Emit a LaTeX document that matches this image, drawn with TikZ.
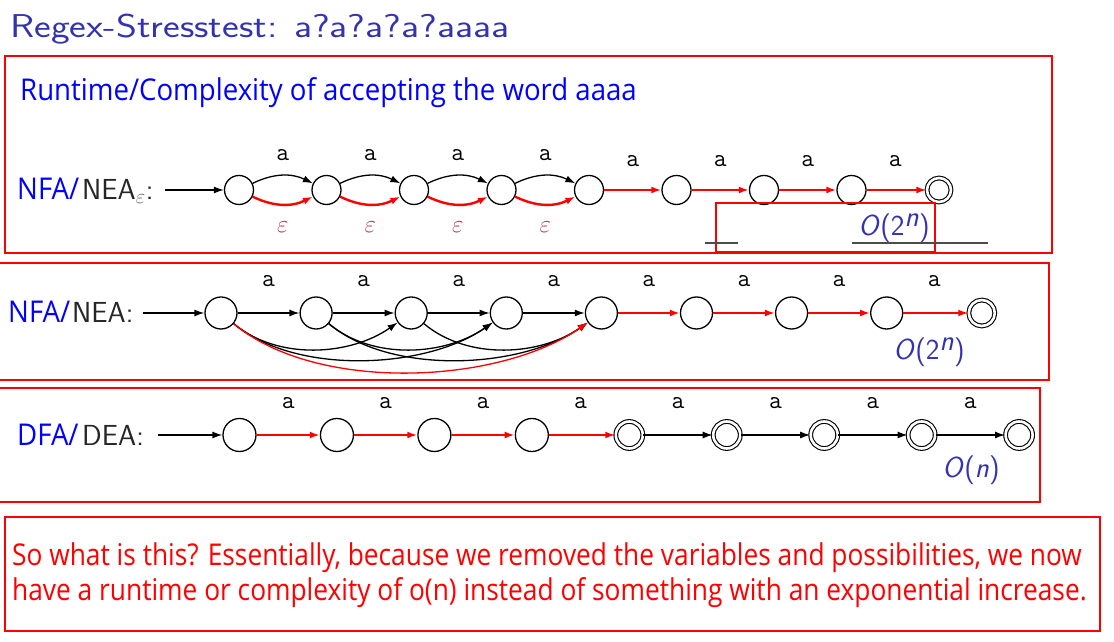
\documentclass[tikz,border=0pt]{standalone}
\usepackage{fontspec}
\newfontfamily\osc[FakeStretch=0.92]{Open Sans}
\newfontfamily\oscb[FakeStretch=0.877]{Open Sans}
\usetikzlibrary{arrows.meta}
\definecolor{slideblue}{rgb}{0.2,0.2,0.7}
\definecolor{epsred}{rgb}{0.75,0.2,0.3}
\definecolor{pureblue}{rgb}{0,0,1}
\begin{document}
\begin{tikzpicture}[x=1pt,y=1pt,
  >={Latex[length=10pt,width=7pt]},
  st/.style={circle,draw,line width=1.3pt,minimum size=#1,inner sep=0pt},
  acc/.style={circle,draw,line width=1.1pt,double,double distance=2.6pt,minimum size=#1,inner sep=0pt},
  redbox/.style={draw=red,line width=2.8pt},
  blk/.style={->,line width=1.3pt,black},
  rd/.style={->,line width=2.4pt,red},
  lab/.style={font=\ttfamily\fontsize{25}{28}\selectfont,inner sep=0pt},
  epslab/.style={font=\fontsize{24}{28}\selectfont,text=epsred,inner sep=0pt},
  osctext/.style={font=\osc\fontsize{30}{36}\selectfont,inner sep=0pt,anchor=base west},
  bottext/.style={font=\oscb\fontsize{30}{36}\selectfont,inner sep=0pt,anchor=base west,text=red},
  slidetext/.style={font=\sffamily\fontsize{29}{34}\selectfont,text=black!85,inner sep=0pt,anchor=base west},
  cplx/.style={font=\sffamily\fontsize{29}{34}\selectfont,text=slideblue,inner sep=0pt},
]
\useasboundingbox (0,0) rectangle (1114,642);

% title
\node[font=\sffamily\fontsize{33}{40}\selectfont,text=slideblue,anchor=base west,inner sep=0pt] (title) at (10,604) {\scalebox{1.21}[1]{Regex-Stresstest: a?a?a?a?aaaa}};

% ---------- box 1 ----------
\draw[redbox] (5,586) rectangle (1052,389);
\node[osctext,text=pureblue] (rt) at (20,541) {Runtime/Complexity of accepting the word aaaa};
\node[osctext,text=pureblue] (nfa1) at (17,442) {NFA/};
\node[slidetext] (nea1) at (82,442) {NEA\textcolor{black!60}{$_{\varepsilon}$}:};
\foreach \i in {0,...,7} \node[st=29pt] (a\i) at ({239+87.5*\i},452) {};
\node[acc=24pt] (a8) at (939,452) {};
\coordinate (a0in) at (165,452);
\draw[blk] (a0in) -- (a0);
\foreach \i/\j in {0/1,1/2,2/3,3/4} {
  \draw[blk] (a\i) to[bend left=26] (a\j);
  \draw[rd] (a\i) to[bend right=26] (a\j);
  \node[lab] (la\i) at ({239+87.5*\i+43.75},487) {a};
  \node[epslab] (le\i) at ({239+87.5*\i+43.75},415) {$\varepsilon$};
}
\foreach \i/\j in {4/5,5/6,6/7,7/8} {
  \draw[rd] (a\i) -- (a\j);
  \node[lab] (la\i) at ({239+87.5*\i+43.75},481) {a};
}
\draw[redbox] (716,439) rectangle (935,390);
\node[cplx] (o1) at (894,414) {\textit{O}(2$^{\textit{n}}$)};
\coordinate (g1a) at (705,399); \coordinate (g1b) at (738,399);
\coordinate (g2a) at (852,399); \coordinate (g2b) at (988,399);
\draw[line width=1.5pt,black!70] (g1a) -- (g1b);
\draw[line width=1.5pt,black!70] (g2a) -- (g2b);

% ---------- box 2 ----------
\draw[redbox] (-3,379) rectangle (1049,262);
\node[osctext,text=pureblue] (nfa2) at (8,319) {NFA/};
\node[slidetext] (nea2) at (72,319) {NEA:};
\foreach \i in {0,...,7} \node[st=32pt] (b\i) at ({221+95.1*\i},329) {};
\node[acc=26pt] (b8) at ({221+95.1*8},329) {};
\coordinate (b0in) at (143,329);
\draw[blk] (b0in) -- (b0);
\foreach \i/\j in {0/1,1/2,2/3,3/4} {
  \draw[blk] (b\i) -- (b\j);
  \node[lab] (lb\i) at ({221+95.1*\i+47.5},361) {a};
}
\foreach \i/\j in {4/5,5/6,6/7,7/8} {
  \draw[rd] (b\i) -- (b\j);
  \node[lab] (lb\i) at ({221+95.1*\i+47.5},361) {a};
}
\draw[blk] (b0) to[out=-40,in=-145,looseness=0.9] (b2);
\draw[blk] (b1) to[out=-40,in=-145,looseness=0.9] (b3);
\draw[blk] (b2) to[out=-40,in=-145,looseness=0.9] (b4);
\draw[blk] (b0) to[out=-40,in=-145,looseness=0.8] (b3);
\draw[blk] (b1) to[out=-40,in=-145,looseness=0.8] (b4);
\draw[->,line width=1.3pt,red] (b0) to[out=-40,in=-145,looseness=0.78] (b4);
\node[cplx] (o2) at (929,290) {\textit{O}(2$^{\textit{n}}$)};

% ---------- box 3 ----------
\draw[redbox] (-3,254) rectangle (1040,140);
\node[osctext,text=pureblue] (dfa3) at (17,196) {DFA/};
\node[slidetext] (dea3) at (82,196) {DEA:};
\foreach \i in {0,...,3} \node[st=33pt] (c\i) at ({239.5+97.45*\i},207) {};
\foreach \i in {4,...,8} \node[acc=27pt] (c\i) at ({239.5+97.45*\i},207) {};
\coordinate (c0in) at (158,207);
\draw[blk] (c0in) -- (c0);
\foreach \i/\j in {0/1,1/2,2/3,3/4} {
  \draw[rd] (c\i) -- (c\j);
  \node[lab] (lc\i) at ({239.5+97.45*\i+48.7},239) {a};
}
\foreach \i/\j in {4/5,5/6,6/7,7/8} {
  \draw[blk] (c\i) -- (c\j);
  \node[lab] (lc\i) at ({239.5+97.45*\i+48.7},239) {a};
}
\node[cplx] (o3) at (971,172) {\textit{O}(\textit{n})};

% ---------- box 4 ----------
\draw[redbox] (5,125) rectangle (1100,11);
\node[bottext] (t1) at (12,76) {So what is this? Essentially, because we removed the variables and possibilities, we now};
\node[bottext] (t2) at (12,41) {have a runtime or complexity of o(n) instead of something with an exponential increase.};
\end{tikzpicture}
\end{document}
